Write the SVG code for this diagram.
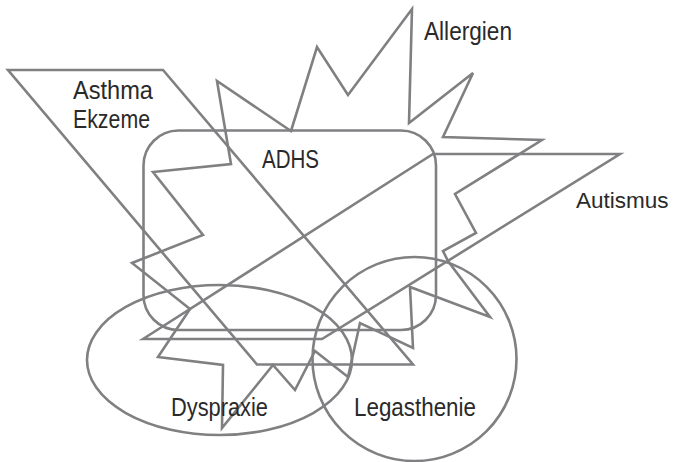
<svg xmlns="http://www.w3.org/2000/svg" width="673" height="462" viewBox="0 0 673 462">
<style>
.s{fill:none;stroke:#808083;stroke-width:2.6;stroke-linejoin:miter}
.t{font-family:"Liberation Sans",Arial,sans-serif;font-size:25px;fill:#2a2a2a}
</style>
<rect width="673" height="462" fill="#ffffff"/>
<g id="asthma">
<polygon class="s" points="8,70 163,70 413,364.5 257,364.5"/>
<text class="t" x="73" y="99" textLength="80" lengthAdjust="spacingAndGlyphs">Asthma</text>
<text class="t" x="73" y="128" textLength="77" lengthAdjust="spacingAndGlyphs">Ekzeme</text>
</g>
<g id="allergien">
<polygon class="s" points="291,131 317,47 348,95 412,9 409,123 473,73 443,137 542,140 455,194 476,233 443,251 448,261 490,317 410,287 413,348 360,323 348,377 315,351 295,390 273,365 222,428 223,365 158,357 190,309 132,263 203,235 153,172 231,164 217,81"/>
<text class="t" x="424" y="40" textLength="88" lengthAdjust="spacingAndGlyphs">Allergien</text>
</g>
<g id="adhs">
<rect class="s" x="143.5" y="130.5" width="292.5" height="199.5" rx="35" ry="35"/>
<text class="t" x="262" y="168" textLength="57" lengthAdjust="spacingAndGlyphs">ADHS</text>
</g>
<g id="autismus">
<polygon class="s" points="143,339 433,154 620,154 322,339"/>
<text class="t" x="576" y="208" style="font-size:22.5px">Autismus</text>
</g>
<g id="dyspraxie">
<ellipse class="s" cx="219.5" cy="360" rx="132.5" ry="75"/>
<text class="t" x="171" y="416" textLength="97" lengthAdjust="spacingAndGlyphs">Dyspraxie</text>
</g>
<g id="legasthenie">
<circle class="s" cx="414.5" cy="359" r="102"/>
<text class="t" x="354" y="416" textLength="122" lengthAdjust="spacingAndGlyphs">Legasthenie</text>
</g>
<g id="connectors"></g>
</svg>
